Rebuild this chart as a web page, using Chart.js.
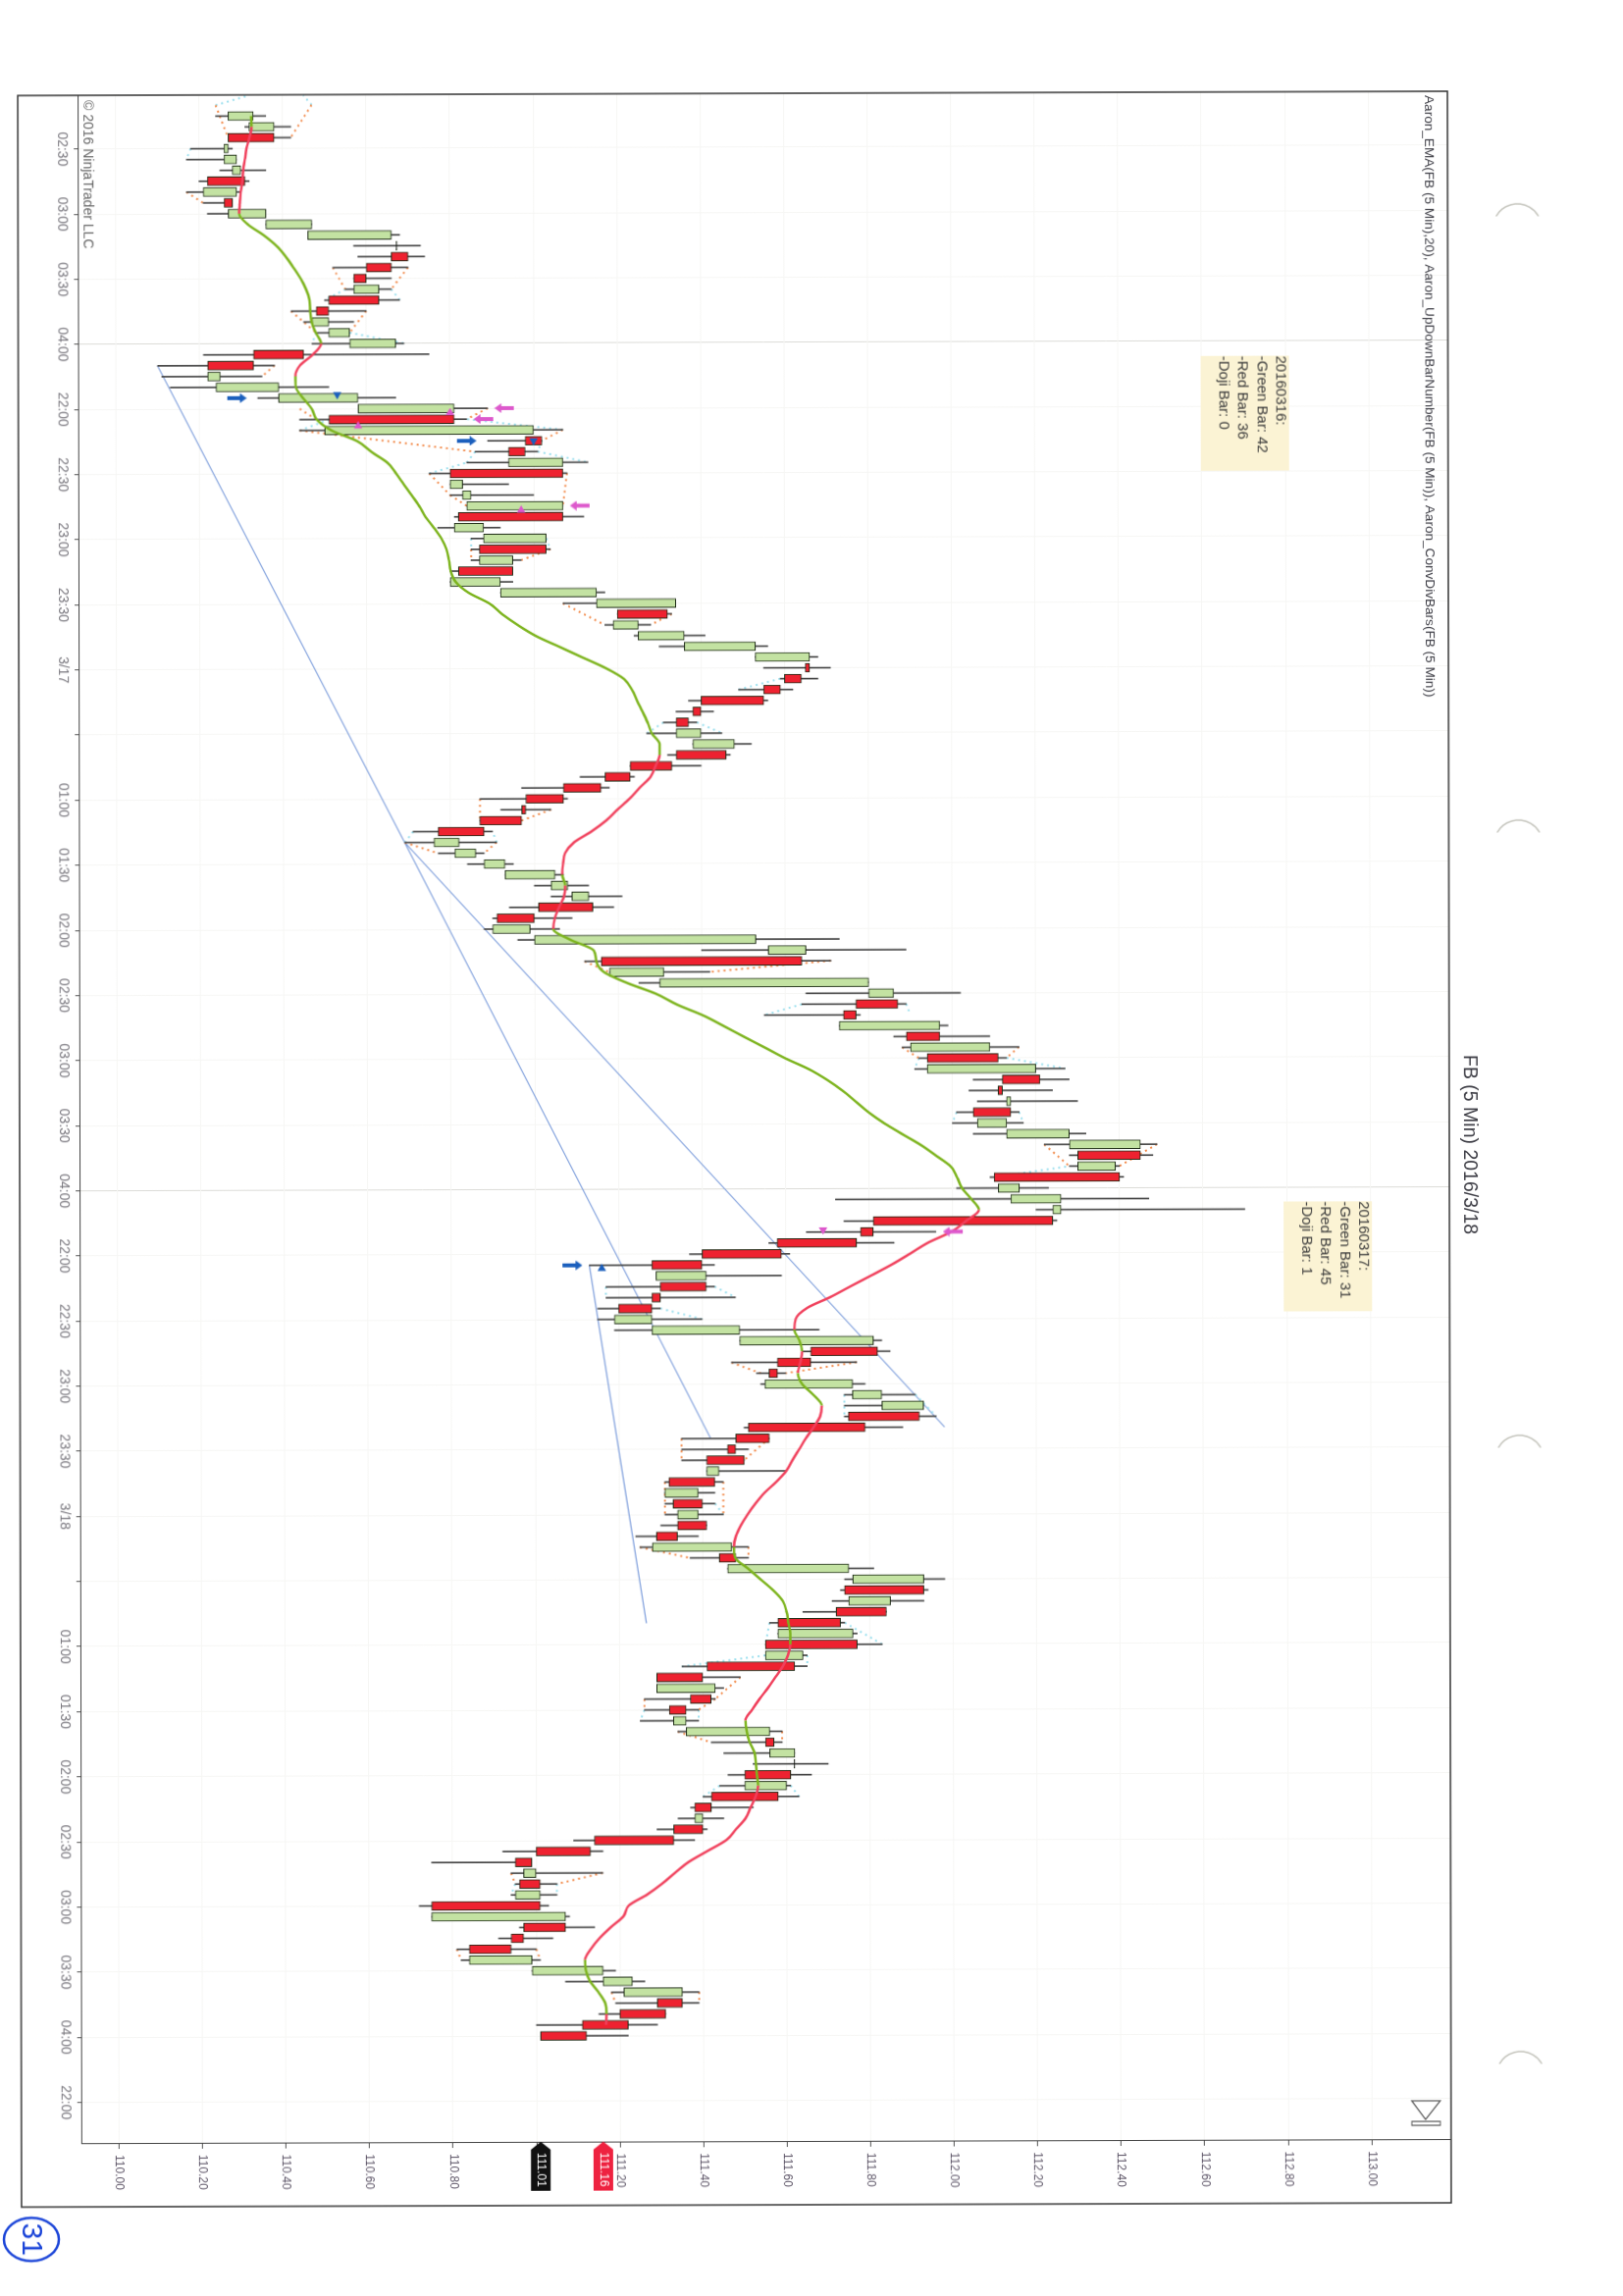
<!DOCTYPE html>
<html>
<head>
<meta charset="utf-8">
<title>FB (5 Min) 2016/3/18</title>
<script src="https://cdn.jsdelivr.net/npm/chart.js@4"></script>
<style>
html, body { margin: 0; padding: 0; background: #fff; overflow: hidden; width: 1654px; height: 2340px; }
/* the sheet was printed sideways and scanned a little crooked: draw it lying down and turn it */
#sheet { position: absolute; left: 0; top: 0; transform-origin: 0 0; transform: matrix(0.0018, 1, -1, 0.003, 1651.9, -2.5); }
</style>
</head>
<body>
<canvas id="sheet" width="2340" height="1654"></canvas>
<script>
// session tick labels, one every 6 bars starting at bar 3
var timeLabels = ['02:30','03:00','03:30','04:00','22:00','22:30','23:00','23:30','3/17','','01:00','01:30','02:00','02:30','03:00','03:30','04:00','22:00','22:30','23:00','23:30','3/18','','01:00','01:30','02:00','02:30','03:00','03:30','04:00','22:00'];
var sessionLines = ['04:00'];

var opens = [110.27,110.32,110.38,110.26,110.26,110.28,110.31,110.21,110.28,110.27,
110.36,110.46,110.672,110.70,110.66,110.60,110.57,110.63,110.51,110.47,
110.51,110.56,110.45,110.33,110.22,110.24,110.39,110.58,110.81,110.50,
111.02,110.98,110.94,111.07,110.80,110.83,110.84,111.07,110.81,110.88,
111.03,110.87,110.95,110.80,110.92,111.15,111.32,111.19,111.25,111.36,
111.53,111.66,111.64,111.59,111.55,111.40,111.37,111.34,111.38,111.46,
111.33,111.23,111.16,111.07,110.98,110.97,110.88,110.76,110.81,110.88,
110.93,111.04,111.09,111.14,111.00,110.90,111.00,111.56,111.64,111.18,
111.30,111.80,111.87,111.77,111.73,111.97,111.90,112.11,111.94,112.21,
112.12,112.13,112.14,112.06,112.13,112.28,112.45,112.30,112.40,112.11,
112.14,112.24,112.24,111.81,111.77,111.59,111.40,111.29,111.41,111.30,
111.28,111.19,111.28,111.49,111.82,111.66,111.58,111.55,111.76,111.83,
111.92,111.79,111.56,111.48,111.50,111.41,111.43,111.31,111.40,111.34,
111.41,111.34,111.28,111.48,111.46,111.76,111.93,111.75,111.84,111.73,
111.58,111.77,111.55,111.62,111.40,111.29,111.42,111.36,111.33,111.36,
111.57,111.56,111.618,111.61,111.50,111.58,111.42,111.38,111.40,111.33,
111.13,110.99,110.97,111.01,110.95,111.01,110.75,111.07,110.97,110.94,
110.84,110.99,111.16,111.21,111.35,111.31,111.22,111.12];

var closes = [110.33,110.38,110.27,110.27,110.29,110.30,110.22,110.29,110.26,110.36,
110.47,110.66,110.674,110.66,110.60,110.57,110.63,110.51,110.48,110.51,
110.56,110.67,110.33,110.22,110.25,110.39,110.58,110.81,110.51,111.00,
110.98,110.94,111.07,110.80,110.83,110.85,111.07,110.82,110.88,111.03,
110.87,110.95,110.82,110.92,111.15,111.34,111.20,111.25,111.36,111.53,
111.66,111.65,111.60,111.55,111.40,111.38,111.34,111.40,111.48,111.34,
111.23,111.17,111.07,110.98,110.97,110.87,110.77,110.82,110.86,110.93,
111.05,111.08,111.13,111.01,110.91,110.99,111.53,111.65,111.16,111.31,
111.80,111.86,111.77,111.74,111.97,111.89,112.09,111.94,112.20,112.12,
112.11,112.14,112.05,112.13,112.28,112.45,112.30,112.39,112.10,112.16,
112.26,112.26,111.81,111.78,111.58,111.40,111.28,111.41,111.30,111.28,
111.20,111.28,111.49,111.81,111.66,111.58,111.56,111.76,111.83,111.93,
111.75,111.51,111.48,111.46,111.41,111.44,111.32,111.39,111.33,111.39,
111.34,111.29,111.47,111.44,111.75,111.93,111.74,111.85,111.72,111.58,
111.76,111.55,111.64,111.41,111.29,111.43,111.37,111.32,111.36,111.56,
111.55,111.62,111.62,111.50,111.60,111.42,111.38,111.40,111.33,111.14,
111.00,110.95,111.00,110.96,111.01,110.75,111.07,110.97,110.94,110.84,
110.99,111.16,111.23,111.35,111.29,111.20,111.11,111.01];

var lows = [110.24,110.31,110.27,110.18,110.17,110.25,110.20,110.17,110.21,110.22,
110.36,110.46,110.57,110.58,110.52,110.57,110.55,110.50,110.42,110.45,
110.48,110.47,110.21,110.10,110.11,110.13,110.34,110.58,110.44,110.44,
110.89,110.86,110.84,110.75,110.80,110.80,110.84,110.81,110.77,110.85,
110.85,110.85,110.80,110.80,110.92,111.07,111.20,111.17,111.24,111.30,
111.53,111.55,111.59,111.49,111.37,111.34,111.31,111.27,111.38,111.32,
111.23,111.11,110.97,110.87,110.92,110.87,110.71,110.69,110.77,110.84,
110.93,111.00,111.04,110.94,110.90,110.88,110.96,111.40,111.12,111.18,
111.25,111.65,111.64,111.55,111.73,111.86,111.88,111.92,111.91,112.05,
112.04,112.06,112.01,112.00,112.05,112.22,112.28,112.28,112.09,112.01,
111.72,112.20,111.74,111.65,111.56,111.37,111.13,111.29,111.17,111.17,
111.15,111.15,111.19,111.49,111.64,111.47,111.53,111.54,111.74,111.74,
111.74,111.50,111.35,111.35,111.35,111.41,111.31,111.31,111.31,111.31,
111.30,111.24,111.25,111.37,111.46,111.74,111.73,111.71,111.64,111.56,
111.58,111.55,111.55,111.35,111.29,111.29,111.26,111.26,111.25,111.34,
111.42,111.45,111.52,111.46,111.44,111.40,111.37,111.34,111.29,111.09,
110.92,110.75,110.94,110.95,110.94,110.72,110.75,110.96,110.91,110.81,
110.82,110.99,111.07,111.18,111.19,111.15,111.00,111.01];

var highs = [110.36,110.42,110.42,110.28,110.29,110.36,110.32,110.30,110.28,110.36,
110.47,110.68,110.73,110.74,110.70,110.66,110.66,110.68,110.60,110.57,
110.56,110.69,110.75,110.38,110.35,110.51,110.67,110.89,110.84,111.07,
111.02,111.01,111.13,111.08,110.94,111.00,111.07,111.12,110.92,111.03,
111.04,110.97,110.95,110.95,111.17,111.34,111.33,111.28,111.41,111.56,
111.68,111.71,111.68,111.62,111.56,111.43,111.39,111.45,111.52,111.47,
111.40,111.24,111.18,111.08,111.04,110.97,110.90,110.91,110.88,110.95,
111.07,111.13,111.21,111.19,111.09,111.06,111.73,111.89,111.71,111.42,
111.80,112.02,111.89,111.78,111.99,112.09,112.16,112.13,112.27,112.28,
112.24,112.30,112.16,112.17,112.32,112.49,112.48,112.40,112.41,112.23,
112.47,112.70,112.25,111.96,111.86,111.61,111.43,111.59,111.43,111.48,
111.30,111.40,111.68,111.83,111.85,111.77,111.60,111.79,111.91,111.93,
111.96,111.88,111.56,111.51,111.50,111.60,111.45,111.43,111.43,111.45,
111.41,111.39,111.51,111.51,111.81,111.98,111.94,111.93,111.84,111.74,
111.77,111.83,111.65,111.65,111.49,111.45,111.43,111.39,111.39,111.59,
111.59,111.62,111.70,111.66,111.61,111.63,111.52,111.45,111.41,111.38,
111.16,110.99,111.16,111.05,111.05,111.03,111.08,111.14,111.04,111.00,
111.01,111.19,111.26,111.39,111.39,111.31,111.29,111.22];

var dojiBars = [12, 152];

// EMA(20), one value per bar, ends one bar before the last candle
var emaValues = [110.325,110.326,110.321,110.314,110.310,110.306,110.304,110.300,110.298,110.296,
110.317,110.355,110.386,110.408,110.426,110.443,110.456,110.464,110.466,110.469,
110.479,110.492,110.472,110.441,110.430,110.431,110.448,110.469,110.481,110.516,
110.578,110.612,110.650,110.671,110.689,110.708,110.726,110.741,110.761,110.779,
110.791,110.797,110.801,110.813,110.844,110.894,110.925,110.962,111.005,111.061,
111.117,111.173,111.216,111.235,111.247,111.260,111.272,111.282,111.301,111.301,
111.291,111.279,111.253,111.229,111.200,111.173,111.138,111.096,111.074,111.069,
111.067,111.074,111.071,111.059,111.049,111.045,111.086,111.142,111.148,111.167,
111.222,111.291,111.341,111.403,111.453,111.502,111.552,111.601,111.657,111.701,
111.738,111.769,111.800,111.837,111.880,111.924,111.961,111.996,112.011,112.023,
112.045,112.063,112.033,111.998,111.942,111.899,111.855,111.806,111.756,111.707,
111.651,111.624,111.621,111.633,111.639,111.635,111.629,111.639,111.666,111.686,
111.682,111.666,111.648,111.632,111.616,111.601,111.577,111.549,111.527,111.508,
111.492,111.480,111.475,111.478,111.509,111.539,111.569,111.592,111.601,111.605,
111.610,111.610,111.604,111.592,111.574,111.556,111.536,111.518,111.502,111.505,
111.512,111.524,111.527,111.529,111.532,111.526,111.514,111.502,111.479,111.456,
111.411,111.366,111.333,111.302,111.266,111.222,111.209,111.179,111.152,111.131,
111.117,111.119,111.129,111.149,111.165,111.168,111.167];

// swing connectors: [bar, price, bar, price]
var orangeSwings = [[-1,110.24,2,110.27],[-1,110.47,2,110.42],[7,110.17,8,110.21],[14,110.52,16,110.55],[14,110.70,16,110.66],
[18,110.42,20,110.48],[18,110.60,20,110.56],[23,110.38,24,110.35],[27,110.44,28,110.48],[27,110.89,28,110.84],
[29,110.44,31,110.86],[29,111.07,30,111.02],[33,110.75,35,110.80],[35,110.80,36,110.84],[33,111.08,36,111.07],
[40,110.85,41,110.85],[40,111.04,41,110.97],[45,111.07,47,111.17],[46,111.33,47,111.28],[63,110.87,65,110.87],
[64,111.04,65,110.97],[67,110.69,68,110.77],[67,110.91,68,110.88],[78,111.12,79,111.18],[78,111.71,79,111.42],
[86,111.88,87,111.92],[86,112.16,87,112.13],[95,112.22,97,112.28],[95,112.49,97,112.40],[115,111.47,116,111.54],
[115,111.77,116,111.60],[122,111.35,124,111.35],[122,111.56,124,111.50],[126,111.45,129,111.45],[126,111.31,129,111.31],
[132,111.25,133,111.37],[132,111.51,133,111.51],[144,111.49,146,111.43],[146,111.26,147,111.26],[146,111.43,147,111.39],
[149,111.34,150,111.42],[149,111.59,150,111.59],[162,111.16,163,111.05],[162,110.94,163,110.95],[169,110.81,170,110.82],
[169,111.00,170,111.01],[173,111.18,174,111.19],[173,111.39,174,111.39]];

var cyanSwings = [[-1,110.24,-1.9,110.32],[-1,110.47,-1.9,110.45],[3,110.18,4,110.17],[16,110.55,17,110.50],[16,110.66,17,110.68],
[20,110.56,21,110.69],[20,110.48,21,110.47],[29,110.44,28,110.51],[29,111.07,28,110.84],[30,111.02,31,111.01],
[31,110.86,32,110.84],[31,111.01,32,111.13],[33,110.75,32,110.84],[39,110.85,40,110.85],[39,111.03,40,111.04],
[53,111.49,52,111.59],[56,111.31,57,111.27],[56,111.39,57,111.45],[67,110.69,66,110.71],[67,110.91,66,110.90],
[82,111.64,83,111.55],[82,111.89,83,111.90],[87,112.13,88,112.27],[87,111.92,88,111.91],[92,112.01,93,112.00],
[92,112.16,93,112.17],[98,112.10,97,112.28],[108,111.43,109,111.48],[108,111.17,109,111.17],[110,111.30,111,111.40],
[118,111.74,120,111.74],[118,111.91,120,111.96],[128,111.43,129,111.45],[139,111.56,141,111.55],[139,111.74,141,111.83],
[142,111.55,143,111.35],[142,111.65,143,111.65],[147,111.26,148,111.25],[147,111.39,148,111.39],[154,111.44,155,111.40],
[154,111.61,155,111.63],[163,110.95,164,110.94],[163,111.05,164,111.05]];

var trendLines = [[23,110.10,67,110.69],[67,110.69,122,111.42],[67,110.69,121,111.98],[106,111.13,139,111.265]];

// signal markers
var blueArrowBars = [26, 30, 106];
var blueArrowPrices = [110.29, 110.84, 111.09];
var pinkArrowBars = [27, 28, 36, 103];
var pinkArrowPrices = [110.93, 110.88, 111.11, 112.00];
var blueTriBars = [25.7, 30, 106.3];
var blueTriPrices = [110.53, 111.00, 111.16];
var pinkTriBars = [27.4, 28.6, 36.4, 102.8];
var pinkTriPrices = [110.80, 110.58, 110.97, 111.69];

var lastPrice = 111.01;
var lastEma = 111.16;

var note1 = ['20160316:', '-Green Bar: 42', '-Red Bar: 36', '-Doji Bar: 0'];
var note2 = ['20160317:', '-Green Bar: 31', '-Red Bar: 45', '-Doji Bar: 1'];
var titleText = 'FB (5 Min) 2016/3/18';
var studyText = 'Aaron_EMA(FB (5 Min),20), Aaron_UpDownBarNumber(FB (5 Min)), Aaron_ConvDivBars(FB (5 Min))';
var copyText = '\u00a9 2016 NinjaTrader LLC';

var FONT = '"Liberation Sans", Arial, sans-serif';
var idx = opens.map(function (v, i) { return i; });

function bodyColor(i) {
    if (dojiBars.indexOf(i) >= 0) return '#111';
    return closes[i] >= opens[i] ? '#c3e2a2' : '#ee2230';
}

function segmentPoints(list) {
    var pts = [];
    list.forEach(function (s) {
        pts.push({ x: s[0], y: s[1] }, { x: s[2], y: s[3] }, { x: s[2], y: null });
    });
    return pts;
}

function pairPoints(xs, ys) {
    return xs.map(function (x, i) { return { x: x, y: ys[i] }; });
}

function arrowImage(color) {
    var c = document.createElement('canvas');
    c.width = 10; c.height = 20;
    var g = c.getContext('2d');
    g.fillStyle = color;
    g.beginPath();
    g.moveTo(5, 0); g.lineTo(10, 7); g.lineTo(7, 7); g.lineTo(7, 20);
    g.lineTo(3, 20); g.lineTo(3, 7); g.lineTo(0, 7);
    g.closePath();
    g.fill();
    return c;
}

// everything that is not a mark: frame, notes, tags, paper marks
var sheetPlugin = {
    id: 'sheet',
    afterDraw: function (chart) {
        var g = chart.ctx, y = chart.scales.y;
        g.save();
        g.strokeStyle = '#333';
        g.lineWidth = 1.5;
        g.strokeRect(95, 177, 2152, 1457);

        g.textBaseline = 'middle';
        g.textAlign = 'left';
        g.fillStyle = '#3c3c44';
        g.font = '19.5px ' + FONT;
        g.fillText(titleText, 1077, 157);
        g.font = '13.6px ' + FONT;
        g.fillText(studyText, 99, 196, 622);
        g.fillStyle = '#666';
        g.font = '14px ' + FONT;
        g.fillText(copyText, 100, 1563, 156);

        drawNote(g, note1, 364, 339, 117, 90);
        drawNote(g, note2, 1226, 256, 112, 90);

        drawTag(g, y.getPixelForValue(lastPrice), '#111', lastPrice.toFixed(2));
        drawTag(g, y.getPixelForValue(lastEma), '#ee2240', lastEma.toFixed(2));

        // end-of-chart button
        g.strokeStyle = '#555';
        g.lineWidth = 1.2;
        g.beginPath();
        g.moveTo(2143, 188); g.lineTo(2143, 217); g.lineTo(2162, 203); g.closePath();
        g.rect(2164, 188, 4, 29);
        g.stroke();

        // punch holes
        g.strokeStyle = '#c4c4bc';
        g.lineWidth = 1.5;
        [235, 863, 1490, 2118].forEach(function (u) {
            g.beginPath();
            g.arc(u, 106, 25, Math.PI - 1.05, Math.PI + 1.05);
            g.stroke();
        });

        // page number, by hand
        g.strokeStyle = '#1a44d8';
        g.lineWidth = 2.5;
        g.beginPath();
        g.ellipse(2280, 1624, 22, 28, 0, 0, Math.PI * 2);
        g.stroke();
        g.fillStyle = '#1a44d8';
        g.textAlign = 'center';
        g.font = '30px ' + FONT;
        g.fillText('31', 2280, 1625);
        g.restore();
    }
};

function drawNote(g, lines, u, v, w, h) {
    g.fillStyle = '#fbf3d4';
    g.fillRect(u, v, w, h);
    g.fillStyle = '#3a3a3a';
    g.font = '15px ' + FONT;
    lines.forEach(function (t, i) { g.fillText(t, u, v + 9 + i * 19.3); });
}

function drawTag(g, v, color, text) {
    g.fillStyle = color;
    g.beginPath();
    g.moveTo(2182, v); g.lineTo(2190, v - 10); g.lineTo(2232, v - 10);
    g.lineTo(2232, v + 10); g.lineTo(2190, v + 10);
    g.closePath();
    g.fill();
    g.fillStyle = '#fff';
    g.font = '12px ' + FONT;
    g.fillText(text, 2193, v);
}

var firstBarU = 116.5, barStep = 11.06;

new Chart(document.getElementById('sheet'), {
    type: 'bar',
    data: {
        datasets: [
            { type: 'scatter', order: 0, data: pairPoints(blueArrowBars, blueArrowPrices), pointStyle: arrowImage('#1b5fbd') },
            { type: 'scatter', order: 0, data: pairPoints(pinkArrowBars, pinkArrowPrices), pointStyle: arrowImage('#dd58cc'), rotation: 180 },
            { type: 'scatter', order: 0, data: pairPoints(blueTriBars, blueTriPrices), pointStyle: 'triangle', rotation: [90, 90, 270], radius: 5, backgroundColor: '#1b5fbd', borderWidth: 0 },
            { type: 'scatter', order: 0, data: pairPoints(pinkTriBars, pinkTriPrices), pointStyle: 'triangle', rotation: [270, 270, 270, 90], radius: 5, backgroundColor: '#dd58cc', borderWidth: 0 },
            {
                type: 'line', order: 1, label: 'EMA',
                data: pairPoints(idx.slice(0, emaValues.length), emaValues),
                pointRadius: 0, borderWidth: 2.5, cubicInterpolationMode: 'monotone', borderColor: '#7db41e',
                segment: { borderColor: function (c) { return c.p1.parsed.y >= c.p0.parsed.y ? '#7db41e' : '#f0405c'; } }
            },
            {
                order: 2, label: 'Body',
                data: idx.map(function (i) { return { x: i, y: [opens[i], closes[i]] }; }),
                backgroundColor: idx.map(bodyColor), borderColor: '#1c2a14', borderWidth: 1,
                borderSkipped: false, barThickness: 9, grouped: false
            },
            {
                order: 3, label: 'Wick',
                data: idx.map(function (i) { return { x: i, y: [lows[i], highs[i]] }; }),
                backgroundColor: '#444', borderWidth: 0, barThickness: 1, grouped: false
            },
            { type: 'line', order: 4, data: segmentPoints(orangeSwings), pointRadius: 0, borderWidth: 2, borderColor: '#f28a4a', borderDash: [2, 4] },
            { type: 'line', order: 4, data: segmentPoints(cyanSwings), pointRadius: 0, borderWidth: 2, borderColor: '#9adfee', borderDash: [2, 4] },
            { type: 'line', order: 5, data: segmentPoints(trendLines), pointRadius: 0, borderWidth: 1.2, borderColor: '#7f9fdc' }
        ]
    },
    options: {
        responsive: false,
        devicePixelRatio: 1,
        animation: false,
        layout: { padding: { left: 95, right: 93, top: 177, bottom: 20 } },
        plugins: { legend: { display: false }, tooltip: { enabled: false } },
        scales: {
            x: {
                type: 'linear',
                offset: false,
                min: (95 - firstBarU) / barStep,
                max: (2182 - firstBarU) / barStep,
                afterBuildTicks: function (s) { s.ticks = timeLabels.map(function (t, i) { return { value: 3 + i * 6 }; }); },
                afterFit: function (s) { s.height = 62; },
                ticks: {
                    minRotation: 0, maxRotation: 0, autoSkip: false, padding: 4,
                    color: '#77757c', font: { family: FONT, size: 14 },
                    callback: function (v) { return timeLabels[(v - 3) / 6]; }
                },
                grid: {
                    offset: false, tickLength: 5,
                    color: function (c) {
                        var t = timeLabels[(c.tick.value - 3) / 6];
                        return c.tick.value < 110 && sessionLines.indexOf(t) >= 0 ? '#dcdcd8' : '#f6f6f4';
                    },
                    tickColor: '#555'
                },
                border: { color: '#444' }
            },
            y: {
                position: 'right',
                min: 109.912,
                max: 113.19,
                afterFit: function (s) { s.width = 65; },
                ticks: {
                    stepSize: 0.2, includeBounds: false, padding: 6,
                    color: '#5e5668', font: { family: FONT, size: 12 },
                    callback: function (v) { return Number(v).toFixed(2); }
                },
                grid: { tickLength: 6, color: '#f6f6f4', tickColor: '#555' },
                border: { color: '#444' }
            }
        }
    },
    plugins: [sheetPlugin]
});
</script>
</body>
</html>
